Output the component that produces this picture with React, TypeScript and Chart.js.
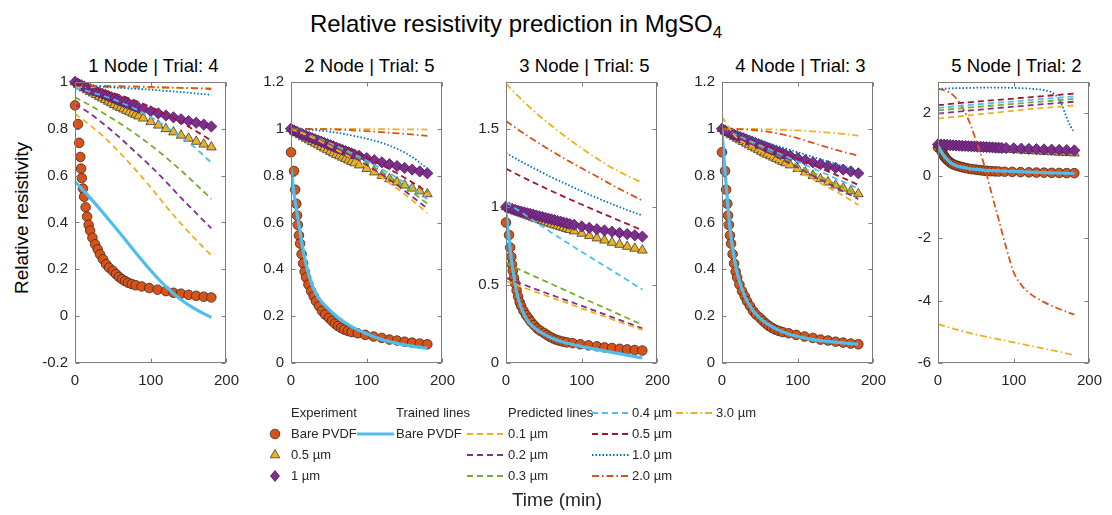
import React, { useEffect, useRef } from "react";
import { Chart, registerables } from "chart.js";

Chart.register(...registerables);

const FONT = '"Liberation Sans", Arial, Helvetica, sans-serif';
const INK = "#262626";
Chart.defaults.font.family = FONT;

const ORANGE = "#D95319";
const YELLOW = "#EDB120";
const PURPLE = "#7E2F8E";
const GREEN = "#77AC30";
const LBLUE = "#4DBEEE";
const DRED = "#A2142F";
const BLUE = "#0072BD";

// ---- Experiment (same measurements in every panel) ----
const timeBare = [0, 4, 5.5, 7, 8, 9, 10.5, 12, 14, 16, 18, 20, 23, 26.5, 30, 33, 37, 41, 45, 50, 54, 58, 62, 66, 70, 75, 80, 88, 98, 109, 120, 130, 140, 150, 160, 170, 180];
const bareValues = [0.9, 0.82, 0.74, 0.68, 0.63, 0.59, 0.545, 0.51, 0.465, 0.425, 0.39, 0.365, 0.335, 0.307, 0.285, 0.264, 0.243, 0.222, 0.207, 0.193, 0.18, 0.168, 0.158, 0.15, 0.143, 0.137, 0.132, 0.127, 0.12, 0.113, 0.107, 0.1, 0.096, 0.091, 0.087, 0.083, 0.08];
const timeCoated = [0, 4, 8, 12, 16, 20, 24, 28, 32, 36, 40, 44, 48, 52, 56, 60, 64, 68, 72, 76, 80, 84, 90, 100, 110, 120, 130, 140, 150, 160, 170, 180];
const coated05Values = [1.0, 0.99, 0.982, 0.974, 0.966, 0.959, 0.952, 0.945, 0.938, 0.931, 0.924, 0.917, 0.91, 0.903, 0.896, 0.89, 0.884, 0.878, 0.872, 0.866, 0.86, 0.854, 0.845, 0.83, 0.815, 0.8, 0.786, 0.772, 0.759, 0.746, 0.734, 0.722];
const coated1Values = [1.0, 0.993, 0.987, 0.981, 0.975, 0.97, 0.965, 0.96, 0.955, 0.95, 0.945, 0.94, 0.935, 0.93, 0.925, 0.92, 0.915, 0.91, 0.905, 0.9, 0.895, 0.89, 0.885, 0.875, 0.866, 0.857, 0.849, 0.841, 0.833, 0.826, 0.818, 0.81];

// ---- Predicted lines are sampled every 20 min ----
const predTime = [0, 20, 40, 60, 80, 100, 120, 140, 160, 180];

// 1 Node | Trial: 4
const n1Trained = [0.575, 0.505, 0.43, 0.352, 0.272, 0.195, 0.126, 0.07, 0.028, -0.005];
const n1P01 = [0.865, 0.815, 0.76, 0.695, 0.625, 0.55, 0.47, 0.395, 0.325, 0.26];
const n1P02 = [0.905, 0.865, 0.815, 0.76, 0.7, 0.64, 0.575, 0.505, 0.44, 0.375];
const n1P03 = [0.935, 0.9, 0.862, 0.822, 0.778, 0.73, 0.678, 0.622, 0.562, 0.5];
const n1P04 = [0.975, 0.958, 0.938, 0.913, 0.884, 0.85, 0.81, 0.765, 0.715, 0.655];
const n1P05 = [0.99, 0.978, 0.962, 0.943, 0.92, 0.893, 0.862, 0.828, 0.79, 0.75];
const n1P10 = [0.985, 0.982, 0.979, 0.975, 0.971, 0.967, 0.962, 0.957, 0.951, 0.945];
const n1P20 = [0.985, 0.984, 0.983, 0.982, 0.981, 0.979, 0.977, 0.975, 0.973, 0.97];
const n1P30 = [0.978, 0.978, 0.977, 0.977, 0.976, 0.976, 0.975, 0.975, 0.974, 0.974];

// 2 Node | Trial: 5
const n2TrainedTime = [0, 3, 6, 10, 15, 20, 25, 30, 35, 45, 60, 80, 100, 120, 140, 160, 180];
const n2Trained = [0.83, 0.75, 0.68, 0.6, 0.5, 0.42, 0.36, 0.315, 0.285, 0.245, 0.2, 0.155, 0.125, 0.1, 0.084, 0.072, 0.063];
const n2P01 = [1.0, 0.975, 0.945, 0.91, 0.875, 0.835, 0.79, 0.745, 0.695, 0.64];
const n2P02 = [1.0, 0.976, 0.948, 0.917, 0.883, 0.845, 0.805, 0.76, 0.71, 0.66];
const n2P03 = [1.0, 0.977, 0.951, 0.922, 0.89, 0.855, 0.817, 0.775, 0.73, 0.68];
const n2P04 = [1.0, 0.978, 0.954, 0.927, 0.897, 0.864, 0.828, 0.79, 0.747, 0.7];
const n2P05 = [1.0, 0.98, 0.958, 0.934, 0.907, 0.877, 0.845, 0.81, 0.772, 0.73];
const n2P10 = [1.0, 0.997, 0.992, 0.984, 0.972, 0.958, 0.94, 0.915, 0.88, 0.83];
const n2P20 = [1.0, 1.0, 0.999, 0.997, 0.994, 0.99, 0.986, 0.981, 0.976, 0.97];
const n2P30 = [1.0, 1.0, 1.0, 1.0, 1.0, 0.999, 0.999, 0.998, 0.998, 0.997];

// 3 Node | Trial: 5
const n3TrainedTime = [0, 3, 5.5, 8, 10, 14, 20, 26, 32, 39, 50, 60, 75, 90, 105, 120, 135, 153, 167, 180];
const n3Trained = [0.96, 0.84, 0.73, 0.63, 0.57, 0.455, 0.355, 0.29, 0.25, 0.22, 0.185, 0.16, 0.135, 0.117, 0.1, 0.087, 0.073, 0.057, 0.044, 0.032];
const n3P01 = [0.525, 0.489, 0.454, 0.419, 0.385, 0.35, 0.315, 0.28, 0.246, 0.212];
const n3P02 = [0.545, 0.508, 0.472, 0.436, 0.401, 0.366, 0.33, 0.294, 0.258, 0.222];
const n3P03 = [0.64, 0.594, 0.55, 0.506, 0.462, 0.418, 0.375, 0.332, 0.288, 0.245];
const n3P04 = [1.03, 0.965, 0.9, 0.835, 0.773, 0.712, 0.652, 0.593, 0.532, 0.47];
const n3P05 = [1.245, 1.195, 1.148, 1.102, 1.058, 1.015, 0.973, 0.932, 0.891, 0.85];
const n3P10 = [1.345, 1.29, 1.24, 1.19, 1.145, 1.1, 1.058, 1.018, 0.98, 0.945];
const n3P20 = [1.55, 1.482, 1.418, 1.358, 1.301, 1.247, 1.195, 1.14, 1.09, 1.04];
const n3P30 = [1.79, 1.69, 1.6, 1.52, 1.445, 1.375, 1.31, 1.25, 1.2, 1.155];

// 4 Node | Trial: 3
const n4TrainedTime = [0, 2, 5, 10, 15, 20, 30, 40, 50, 60, 80, 100, 120, 140, 160, 180];
const n4Trained = [1.0, 0.9, 0.78, 0.59, 0.47, 0.385, 0.285, 0.228, 0.192, 0.167, 0.133, 0.113, 0.1, 0.092, 0.086, 0.08];
const n4P01 = [1.05, 0.96, 0.925, 0.89, 0.855, 0.82, 0.785, 0.75, 0.715, 0.675];
const n4P02 = [1.0, 0.965, 0.932, 0.9, 0.868, 0.835, 0.8, 0.767, 0.733, 0.7];
const n4P03 = [1.0, 0.968, 0.937, 0.906, 0.875, 0.845, 0.813, 0.78, 0.75, 0.715];
const n4P04 = [1.0, 0.972, 0.944, 0.916, 0.888, 0.86, 0.832, 0.803, 0.774, 0.745];
const n4P05 = [1.0, 0.975, 0.95, 0.924, 0.898, 0.872, 0.845, 0.818, 0.79, 0.76];
const n4P10 = [1.0, 0.98, 0.96, 0.94, 0.92, 0.9, 0.88, 0.86, 0.84, 0.82];
const n4P20 = [1.0, 0.999, 0.995, 0.988, 0.976, 0.96, 0.94, 0.92, 0.902, 0.885];
const n4P30 = [1.0, 1.0, 1.0, 0.998, 0.996, 0.993, 0.989, 0.984, 0.978, 0.971];

// 5 Node | Trial: 2
const n5TrainedTime = [0, 4, 8, 12, 16, 20, 25, 30, 40, 50, 60, 80, 100, 120, 140, 160, 180];
const n5Trained = [0.95, 0.78, 0.64, 0.52, 0.43, 0.36, 0.31, 0.28, 0.23, 0.2, 0.18, 0.155, 0.135, 0.115, 0.1, 0.085, 0.07];
const n5P01 = [1.83, 1.88, 1.93, 1.98, 2.03, 2.08, 2.13, 2.17, 2.21, 2.25];
const n5P02 = [1.99, 2.035, 2.08, 2.125, 2.17, 2.21, 2.25, 2.29, 2.33, 2.37];
const n5P03 = [2.09, 2.135, 2.18, 2.22, 2.26, 2.3, 2.34, 2.38, 2.42, 2.46];
const n5P04 = [2.17, 2.215, 2.26, 2.3, 2.34, 2.38, 2.42, 2.46, 2.5, 2.54];
const n5P05 = [2.26, 2.305, 2.35, 2.39, 2.43, 2.47, 2.51, 2.55, 2.59, 2.63];
const n5P10Time = [0, 20, 40, 60, 80, 100, 120, 130, 140, 150, 155, 160, 165, 170, 175, 180];
const n5P10 = [2.78, 2.8, 2.81, 2.82, 2.82, 2.81, 2.79, 2.77, 2.74, 2.67, 2.58, 2.45, 2.18, 1.85, 1.58, 1.38];
const n5P20Time = [0, 10, 20, 30, 40, 50, 60, 70, 80, 90, 100, 110, 120, 140, 160, 180];
const n5P20 = [2.78, 2.72, 2.58, 2.28, 1.8, 1.15, 0.42, -0.5, -1.4, -2.3, -3.1, -3.5, -3.75, -4.05, -4.27, -4.45];
const n5P30 = [-4.75, -4.9, -5.03, -5.14, -5.24, -5.34, -5.44, -5.54, -5.64, -5.75];

// ---- Axis ticks ----
const xTicks = [0, 100, 200];
const yTicks1 = [-0.2, 0, 0.2, 0.4, 0.6, 0.8, 1];
const yTicks24 = [0, 0.2, 0.4, 0.6, 0.8, 1, 1.2];
const yTicks3 = [0, 0.5, 1, 1.5];
const yTicks5 = [-6, -4, -2, 0, 2];

// ---- Predicted line styles ----
const DASHED = [6, 4];
const DOTTED = [1.5, 2];
const DASHDOT = [7, 3, 1.5, 3];
const predLabels = ["0.1 µm", "0.2 µm", "0.3 µm", "0.4 µm", "0.5 µm", "1.0 µm", "2.0 µm", "3.0 µm"];
const predColors = [YELLOW, PURPLE, GREEN, LBLUE, DRED, BLUE, ORANGE, YELLOW];
const predDashes = [DASHED, DASHED, DASHED, DASHED, DASHED, DOTTED, DASHDOT, DASHDOT];

type Series = { t: number[]; v: number[] };
const s = (t: number[], v: number[]): Series => ({ t, v });

const panels = [
  {
    title: "1 Node | Trial: 4", yMin: -0.2, yMax: 1, yTicks: yTicks1,
    trained: s(predTime, n1Trained),
    pred: [n1P01, n1P02, n1P03, n1P04, n1P05, n1P10, n1P20, n1P30].map((v) => s(predTime, v)),
  },
  {
    title: "2 Node | Trial: 5", yMin: 0, yMax: 1.2, yTicks: yTicks24,
    trained: s(n2TrainedTime, n2Trained),
    pred: [n2P01, n2P02, n2P03, n2P04, n2P05, n2P10, n2P20, n2P30].map((v) => s(predTime, v)),
  },
  {
    title: "3 Node | Trial: 5", yMin: 0, yMax: 1.8, yTicks: yTicks3,
    trained: s(n3TrainedTime, n3Trained),
    pred: [n3P01, n3P02, n3P03, n3P04, n3P05, n3P10, n3P20, n3P30].map((v) => s(predTime, v)),
  },
  {
    title: "4 Node | Trial: 3", yMin: 0, yMax: 1.2, yTicks: yTicks24,
    trained: s(n4TrainedTime, n4Trained),
    pred: [n4P01, n4P02, n4P03, n4P04, n4P05, n4P10, n4P20, n4P30].map((v) => s(predTime, v)),
  },
  {
    title: "5 Node | Trial: 2", yMin: -6, yMax: 3, yTicks: yTicks5,
    trained: s(n5TrainedTime, n5Trained),
    pred: [
      s(predTime, n5P01), s(predTime, n5P02), s(predTime, n5P03), s(predTime, n5P04), s(predTime, n5P05),
      s(n5P10Time, n5P10), s(n5P20Time, n5P20), s(predTime, n5P30),
    ],
  },
];

// ---- Geometry ----
const PLOT_LEFTS = [75, 291, 506, 722, 938];
const PLOT_W = 157;
const PLOT_TOP = 78;
const PLOT_H = 285;
const Y_AXIS_W = 50;
const X_AXIS_H = 30;
const PAD_T = 12;
const PAD_R = 16;
const CW = Y_AXIS_W + PLOT_W + PAD_R;
const CH = PAD_T + PLOT_H + X_AXIS_H;

const pts = (t: number[], v: number[]) => t.map((x, i) => ({ x, y: v[i] }));
const fmt = (v: number) => String(Math.round(v * 100) / 100);

// Axes box with inward tick marks on all four sides
const framePlugin = {
  id: "frame",
  afterDraw(chart: any) {
    const { ctx, chartArea: a } = chart;
    const xs = chart.scales.x;
    const ys = chart.scales.y;
    const l = Math.round(a.left) + 0.5;
    const r = Math.round(a.right) - 0.5;
    const t = Math.round(a.top) + 0.5;
    const b = Math.round(a.bottom) - 0.5;
    const TL = 4;
    ctx.save();
    ctx.strokeStyle = "#7d7d7d";
    ctx.lineWidth = 1;
    ctx.strokeRect(l, t, r - l, b - t);
    ctx.beginPath();
    xs.ticks.forEach((tk: any) => {
      const x = Math.round(xs.getPixelForValue(tk.value)) + 0.5;
      ctx.moveTo(x, b); ctx.lineTo(x, b - TL);
      ctx.moveTo(x, t); ctx.lineTo(x, t + TL);
    });
    ys.ticks.forEach((tk: any) => {
      const y = Math.round(ys.getPixelForValue(tk.value)) + 0.5;
      ctx.moveTo(l, y); ctx.lineTo(l + TL, y);
      ctx.moveTo(r, y); ctx.lineTo(r - TL, y);
    });
    ctx.stroke();
    ctx.restore();
  },
};

function buildDatasets(p: (typeof panels)[number]) {
  const ds: any[] = [];
  p.pred.forEach((ser, i) => {
    ds.push({
      label: predLabels[i],
      data: pts(ser.t, ser.v),
      borderColor: predColors[i],
      borderDash: predDashes[i],
      borderWidth: 1.8,
      pointRadius: 0,
      cubicInterpolationMode: "monotone",
      fill: false,
      order: 0,
    });
  });
  ds.push({
    label: "Bare PVDF (trained)",
    data: pts(p.trained.t, p.trained.v),
    borderColor: LBLUE,
    borderWidth: 3.2,
    pointRadius: 0,
    cubicInterpolationMode: "monotone",
    fill: false,
    order: 1,
  });
  ds.push({
    label: "1 µm",
    data: pts(timeCoated, coated1Values),
    showLine: false,
    pointStyle: "rectRot",
    pointRadius: 5.6,
    pointBackgroundColor: PURPLE,
    pointBorderColor: "#4b1656",
    pointBorderWidth: 0.8,
    clip: false,
    order: 2,
  });
  ds.push({
    label: "0.5 µm",
    data: pts(timeCoated, coated05Values),
    showLine: false,
    pointStyle: "triangle",
    pointRadius: 5.6,
    pointBackgroundColor: YELLOW,
    pointBorderColor: "#3a3a3a",
    pointBorderWidth: 0.8,
    clip: false,
    order: 3,
  });
  ds.push({
    label: "Bare PVDF",
    data: pts(timeBare, bareValues),
    showLine: false,
    pointStyle: "circle",
    pointRadius: 4.8,
    pointBackgroundColor: ORANGE,
    pointBorderColor: "#3a2a20",
    pointBorderWidth: 0.8,
    clip: false,
    order: 4,
  });
  return ds;
}

function Panel({ index }: { index: number }) {
  const ref = useRef<HTMLCanvasElement>(null);
  const p = panels[index];
  useEffect(() => {
    if (!ref.current) return;
    const tickFont = { family: FONT, size: 15 };
    const chart = new Chart(ref.current, {
      type: "line",
      data: { datasets: buildDatasets(p) },
      options: {
        responsive: false,
        maintainAspectRatio: false,
        animation: false,
        devicePixelRatio: 1,
        layout: { autoPadding: false, padding: { top: PAD_T, right: PAD_R, left: 0, bottom: 0 } },
        plugins: { legend: { display: false }, tooltip: { enabled: false }, title: { display: false } },
        scales: {
          x: {
            type: "linear",
            min: 0,
            max: 200,
            afterBuildTicks: (axis: any) => { axis.ticks = xTicks.map((v) => ({ value: v })); },
            afterFit: (axis: any) => { axis.height = X_AXIS_H; },
            grid: { display: false, drawTicks: false },
            border: { display: false },
            ticks: { font: tickFont, color: INK, padding: 9, maxRotation: 0, autoSkip: false, callback: (v: any) => fmt(Number(v)) },
          },
          y: {
            type: "linear",
            min: p.yMin,
            max: p.yMax,
            afterBuildTicks: (axis: any) => { axis.ticks = p.yTicks.map((v) => ({ value: v })); },
            afterFit: (axis: any) => { axis.width = Y_AXIS_W; },
            grid: { display: false, drawTicks: false },
            border: { display: false },
            ticks: { font: tickFont, color: INK, padding: 7, autoSkip: false, callback: (v: any) => fmt(Number(v)) },
          },
        },
      } as any,
      plugins: [framePlugin],
    });
    return () => chart.destroy();
  }, []);
  const left = PLOT_LEFTS[index];
  return (
    <>
      <div
        style={{
          position: "absolute", left: left - 20, top: PLOT_TOP - 23, width: PLOT_W + 40, textAlign: "center",
          fontFamily: FONT, fontSize: 18.5, fontWeight: 400, lineHeight: "22px", color: "#000", whiteSpace: "nowrap",
        }}
      >
        {p.title}
      </div>
      <canvas
        ref={ref}
        width={CW}
        height={CH}
        style={{ position: "absolute", left: left - Y_AXIS_W, top: PLOT_TOP - PAD_T, width: CW, height: CH }}
      />
    </>
  );
}

// ---- Legend ----
const LEG_ROWS = [413, 434, 455, 476];
const LEG_FONT = 13;

function Txt({ x, y, children }: { x: number; y: number; children: any }) {
  return (
    <div style={{ position: "absolute", left: x, top: y - 9, lineHeight: "18px", fontFamily: FONT, fontSize: LEG_FONT, color: INK, whiteSpace: "nowrap" }}>
      {children}
    </div>
  );
}

function Sample({ x, y, w, color, dash, width }: { x: number; y: number; w: number; color: string; dash?: number[]; width: number }) {
  return (
    <svg style={{ position: "absolute", left: x, top: y - 4 }} width={w} height={8}>
      <line x1={0} y1={4} x2={w} y2={4} stroke={color} strokeWidth={width} strokeDasharray={dash ? dash.join(" ") : undefined} />
    </svg>
  );
}

function Legend() {
  const mx = 275;
  const predCols = [
    { lx: 467, tx: 508, items: [0, 1, 2], rows: [1, 2, 3] },
    { lx: 592, tx: 632, items: [3, 4, 5, 6], rows: [0, 1, 2, 3] },
    { lx: 676, tx: 716, items: [7], rows: [0] },
  ];
  return (
    <>
      <Txt x={291} y={LEG_ROWS[0]}>Experiment</Txt>
      <svg style={{ position: "absolute", left: mx - 7, top: LEG_ROWS[1] - 7 }} width={14} height={14}>
        <circle cx={7} cy={7} r={4.8} fill={ORANGE} stroke="#3a2a20" strokeWidth={0.8} />
      </svg>
      <Txt x={291} y={LEG_ROWS[1]}>Bare PVDF</Txt>
      <svg style={{ position: "absolute", left: mx - 7, top: LEG_ROWS[2] - 7 }} width={14} height={14}>
        <polygon points="7,1.5 11.8,9.8 2.2,9.8" fill={YELLOW} stroke="#3a3a3a" strokeWidth={0.8} />
      </svg>
      <Txt x={291} y={LEG_ROWS[2]}>0.5 µm</Txt>
      <svg style={{ position: "absolute", left: mx - 7, top: LEG_ROWS[3] - 7 }} width={14} height={14}>
        <polygon points="7,1.5 11.5,7 7,12.5 2.5,7" fill={PURPLE} stroke="#4b1656" strokeWidth={0.8} />
      </svg>
      <Txt x={291} y={LEG_ROWS[3]}>1 µm</Txt>

      <Txt x={396} y={LEG_ROWS[0]}>Trained lines</Txt>
      <Sample x={357} y={LEG_ROWS[1]} w={37} color={LBLUE} width={3.2} />
      <Txt x={396} y={LEG_ROWS[1]}>Bare PVDF</Txt>

      <Txt x={508} y={LEG_ROWS[0]}>Predicted lines</Txt>
      {predCols.map((c) =>
        c.items.map((k, j) => (
          <React.Fragment key={k}>
            <Sample x={c.lx} y={LEG_ROWS[c.rows[j]]} w={37} color={predColors[k]} dash={predDashes[k]} width={1.8} />
            <Txt x={c.tx} y={LEG_ROWS[c.rows[j]]}>{predLabels[k]}</Txt>
          </React.Fragment>
        ))
      )}
    </>
  );
}

export default function App() {
  return (
    <div
      style={{
        position: "absolute", left: 0, top: 0, width: 1112, height: 515, overflow: "hidden",
        background: "#fff", fontFamily: FONT, color: "#000",
      }}
    >
      <div
        style={{
          position: "absolute", left: 216, width: 600, top: 9, textAlign: "center",
          fontSize: 24, lineHeight: "30px", whiteSpace: "nowrap",
        }}
      >
        Relative resistivity prediction in MgSO
        <span style={{ fontSize: "0.7em", position: "relative", top: "0.35em" }}>4</span>
      </div>
      <div
        style={{
          position: "absolute", left: 22 - 110, top: 218 - 11, width: 220, height: 22, lineHeight: "22px",
          textAlign: "center", fontSize: 19, transform: "rotate(-90deg)", whiteSpace: "nowrap", color: "#000",
        }}
      >
        Relative resistivity
      </div>
      {panels.map((_, i) => (
        <Panel key={i} index={i} />
      ))}
      <Legend />
      <div
        style={{
          position: "absolute", left: 457, width: 200, top: 489, textAlign: "center",
          fontSize: 19, lineHeight: "22px", color: INK,
        }}
      >
        Time (min)
      </div>
    </div>
  );
}
